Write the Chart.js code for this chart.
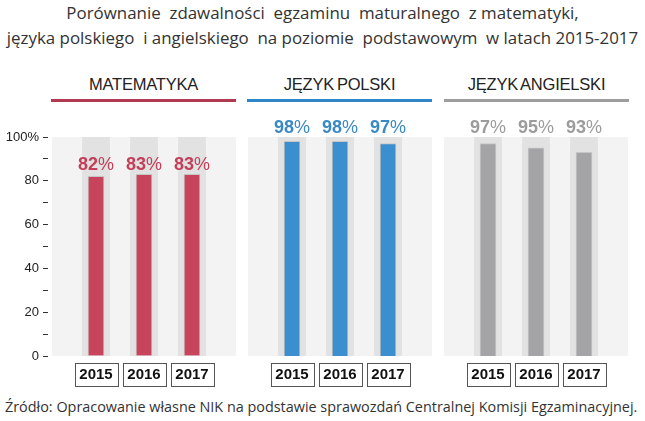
<!DOCTYPE html>
<html>
<head>
<meta charset="utf-8">
<script src="https://cdn.jsdelivr.net/npm/chart.js@4.4.1/dist/chart.umd.min.js"></script>
<style>
  body { margin: 0; background: #fff; width: 645px; height: 421px; position: relative; overflow: hidden; font-family: "Open Sans", sans-serif; }
  .title { position: absolute; left: 0; width: 645px; text-align: center; font-size: 16.9px; color: #333; white-space: pre; }
  .head { position: absolute; top: 75px; text-align: center; font-family: "Liberation Sans", Arial, sans-serif; font-size: 16.5px; color: #222; letter-spacing: -0.2px; word-spacing: -1.5px; }
  .line { position: absolute; top: 99px; height: 3px; }
  .src { position: absolute; left: 5px; top: 397px; font-size: 14.4px; color: #333; white-space: nowrap; }
  canvas { position: absolute; }
</style>
</head>
<body>
<div class="title" style="top:1px">Porównanie  zdawalności  egzaminu  maturalnego  z matematyki,</div>
<div class="title" style="top:26px">języka polskiego  i angielskiego  na poziomie  podstawowym  w latach 2015-2017</div>

<div id="heads"></div>

<div style="position:absolute;left:0;top:110px;width:240px;height:280px"><canvas id="c0"></canvas></div>
<div style="position:absolute;left:244px;top:110px;width:192px;height:280px"><canvas id="c1"></canvas></div>
<div style="position:absolute;left:440px;top:110px;width:192px;height:280px"><canvas id="c2"></canvas></div>

<div class="src">Źródło: Opracowanie własne NIK na podstawie sprawozdań Centralnej Komisji Egzaminacyjnej.</div>

<script>
const years = ['2015', '2016', '2017'];
const subjects = ['MATEMATYKA', 'JĘZYK POLSKI', 'JĘZYK ANGIELSKI'];
const matematyka = [82, 83, 83];
const polski = [98, 98, 97];
const angielski = [97, 95, 93];
const yTicks = [0, 10, 20, 30, 40, 50, 60, 70, 80, 90, 100];

const series = [matematyka, polski, angielski];
const barColors = ['#c8435c', '#3b8fcf', '#a4a4a7'];
const labelColors = ['#c23f58', '#3a89c7', '#9c9c9e'];
const lineColors = ['#b23a50', '#2f86c6', '#9d9d9d'];
const panelLeft = [51, 247, 444];
const panelWidth = 185;

// panel headings with coloured underline
const heads = document.getElementById('heads');
subjects.forEach((name, i) => {
    const h = document.createElement('div');
    h.className = 'head';
    h.style.left = panelLeft[i] + 'px';
    h.style.width = panelWidth + 'px';
    h.textContent = name;
    heads.appendChild(h);
    const l = document.createElement('div');
    l.className = 'line';
    l.style.left = panelLeft[i] + 'px';
    l.style.width = panelWidth + 'px';
    l.style.background = lineColors[i];
    heads.appendChild(l);
});

// grey panel + column backgrounds, value labels, boxed year labels
const panelPlugin = {
    id: 'panel',
    beforeDatasetsDraw(chart) {
        const { ctx, chartArea, scales } = chart;
        ctx.save();
        ctx.fillStyle = '#f3f3f3';
        ctx.fillRect(chartArea.left + 4, chartArea.top, chartArea.width - 8, chartArea.height);
        ctx.fillStyle = '#e2e2e2';
        years.forEach((y, i) => {
            const x = scales.x.getPixelForValue(i + 1);
            ctx.fillRect(x - 14, chartArea.top, 28, chartArea.height);
        });
        ctx.restore();
    },
    afterDraw(chart) {
        const { ctx, chartArea, scales } = chart;
        const idx = chart.options.plugins.panel.index;
        const vals = series[idx];
        // labels sit above the tallest bar, or above the plot if they would touch it
        let ly = scales.y.getPixelForValue(Math.max(...vals)) - 9;
        if (ly - 8 < chartArea.top) ly = chartArea.top - 9;
        ctx.save();
        ctx.textBaseline = 'middle';
        ctx.textAlign = 'left';
        vals.forEach((v, i) => {
            const x = scales.x.getPixelForValue(i + 1);
            const num = String(v);
            ctx.font = 'bold 18px "Liberation Sans", Arial, sans-serif';
            const w1 = ctx.measureText(num).width;
            ctx.font = '18px "Liberation Sans", Arial, sans-serif';
            const w2 = ctx.measureText('%').width;
            const sx = x - (w1 + w2) / 2;
            ctx.fillStyle = labelColors[idx];
            ctx.font = 'bold 18px "Liberation Sans", Arial, sans-serif';
            ctx.fillText(num, sx, ly);
            ctx.font = '18px "Liberation Sans", Arial, sans-serif';
            ctx.fillText('%', sx + w1, ly);
            // box around year label
            ctx.strokeStyle = '#555';
            ctx.lineWidth = 1;
            ctx.strokeRect(Math.round(x - 21.5) + 0.5, chartArea.bottom + 7.5, 43, 23);
        });
        ctx.restore();
    }
};

function makeChart(id, idx) {
    const values = series[idx];
    return new Chart(document.getElementById(id), {
        type: 'bar',
        data: {
            datasets: [{
                data: values.map((v, i) => ({ x: i + 1, y: v })),
                backgroundColor: barColors[idx],
                borderColor: 'rgba(0,0,0,0.12)',
                borderWidth: 1,
                barThickness: 16
            }]
        },
        options: {
            responsive: true,
            maintainAspectRatio: false,
            animation: false,
            layout: { padding: { top: 27, right: 0, left: 0, bottom: 0 } },
            plugins: {
                legend: { display: false },
                tooltip: { enabled: false },
                panel: { index: idx }
            },
            scales: {
                x: {
                    type: 'linear',
                    offset: false,
                    min: 0,
                    max: 4,
                    afterBuildTicks: (scale) => { scale.ticks = years.map((y, i) => ({ value: i + 1 })); },
                    afterFit: (scale) => { scale.height = 34; },
                    grid: { display: false, drawTicks: false, offset: false },
                    border: { display: false },
                    ticks: {
                        padding: 10,
                        color: '#111',
                        font: { family: '"Liberation Sans", Arial, sans-serif', size: 15, weight: 'bold' },
                        callback: (v) => years[v - 1]
                    }
                },
                y: {
                    display: idx === 0,
                    min: 0,
                    max: 100,
                    afterBuildTicks: (scale) => { scale.ticks = yTicks.map(v => ({ value: v })); },
                    afterFit: (scale) => { scale.width = idx === 0 ? 48 : 0; },
                    grid: { drawOnChartArea: false, drawTicks: true, tickLength: 5, color: '#333' },
                    border: { display: false },
                    ticks: {
                        padding: 4,
                        color: '#222',
                        font: { family: '"Liberation Sans", Arial, sans-serif', size: 13 },
                        callback: (v) => v === 100 ? '100%' : (v % 20 === 0 ? v : '')
                    }
                }
            }
        },
        plugins: [panelPlugin]
    });
}

makeChart('c0', 0);
makeChart('c1', 1);
makeChart('c2', 2);
</script>
</body>
</html>
